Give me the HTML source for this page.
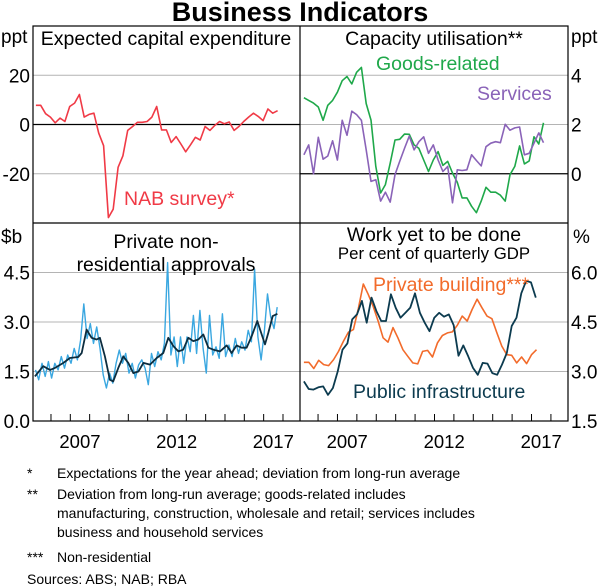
<!DOCTYPE html>
<html><head><meta charset="utf-8"><style>
html,body{margin:0;padding:0;background:#fff;}
svg{display:block;font-family:"Liberation Sans",Arial,sans-serif;}
</style></head><body>
<svg id="c" width="600" height="588" viewBox="0 0 600 588" xmlns="http://www.w3.org/2000/svg">
<text x="300" y="21" text-anchor="middle" font-size="27" font-weight="bold">Business Indicators</text>
<g id="grid"></g>
<g id="series"></g>
<g id="frame"></g>
<g id="labels" font-size="19.5"></g>
<g font-size="14">
<text x="27" y="478">*</text>
<text x="57" y="478">Expectations for the year ahead; deviation from long-run average</text>
<text x="27" y="499">**</text>
<text x="57" y="499">Deviation from long-run average; goods-related includes</text>
<text x="57" y="518">manufacturing, construction, wholesale and retail; services includes</text>
<text x="57" y="537">business and household services</text>
<text x="27" y="562">***</text>
<text x="57" y="562">Non-residential</text>
<text x="27" y="584">Sources: ABS; NAB; RBA</text>
</g>
</svg>
<script>
// ---- data ----
const nabStart = 2005.22;
const nabValues = [7.8,7.8,4.4,3.0,0.7,2.6,1.2,7.3,8.7,12.2,3.0,4.1,4.6,-3.5,-8.6,-37.8,-34.4,-17.4,-12.7,-2.4,-0.8,0.9,0.9,1.2,3.0,7.3,-2.2,-2.2,-7.3,-4.9,-7.9,-11.1,-8.2,-5.2,-6.3,-0.8,-2.4,-0.4,1.2,0.3,1.0,-2.4,-0.8,1.2,3.0,4.6,3.3,1.6,6.3,4.6,5.6];
const capStart = 2005.27;
const goodsValues = [3.09,2.98,2.87,2.71,2.17,2.78,2.98,3.31,3.78,3.95,3.65,4.12,4.32,2.85,2.18,0.30,-0.78,-0.44,0.43,1.37,1.40,1.61,1.60,1.17,1.03,0.56,0.09,0.56,0.90,0.34,0.50,0.03,-0.35,-0.98,-0.98,-1.32,-1.58,-1.11,-0.55,-0.75,-0.75,-0.87,-1.11,-0.04,0.30,1.13,0.40,0.52,1.50,1.21,2.07];
const servicesValues = [0.77,1.17,0,1.48,0.59,0.72,1.34,0.56,2.17,1.56,2.54,2.40,2.17,0.97,-0.31,-0.24,-1.11,-0.75,-1.15,-0.04,0.50,1.03,1.53,0.97,1.30,1.50,0.83,1.17,0.56,0.09,0.30,-1.18,0.16,0.13,0.16,0.77,0.54,0.32,1.10,1.24,1.30,1.26,2.01,1.77,1.86,1.90,0.77,0.83,1.24,1.66,1.26];
const approvalsStart = 2005.20;
const approvalsValues = [1.55,1.25,1.75,1.35,1.80,1.30,1.75,1.55,1.95,1.60,2.00,1.75,2.20,1.85,2.45,3.55,2.50,2.95,2.35,2.85,2.20,1.40,1.00,1.45,1.15,1.75,2.15,1.75,2.05,1.45,1.75,1.30,1.70,1.85,1.60,1.10,2.05,1.65,2.10,1.85,2.35,4.80,2.00,2.55,1.65,2.55,1.75,2.55,2.10,3.20,2.05,3.35,2.20,1.45,3.20,2.00,2.25,1.90,3.25,1.95,2.30,1.95,2.50,2.05,2.40,2.15,2.75,2.40,4.60,2.55,1.85,2.70,3.85,3.15,2.80,3.45];
const trendYears = [2005.17,2005.60,2005.95,2006.21,2006.64,2006.98,2007.41,2007.59,2007.84,2008.10,2008.36,2008.53,2008.79,2009.05,2009.22,2009.48,2009.74,2010.00,2010.26,2010.52,2010.78,2011.12,2011.47,2011.81,2012.07,2012.33,2012.59,2012.84,2013.10,2013.36,2013.62,2013.88,2014.14,2014.40,2014.74,2015.09,2015.34,2015.60,2015.86,2016.12,2016.38,2016.67,2016.90,2017.07,2017.24,2017.47,2017.71];
const trendValues = [1.35,1.66,1.55,1.61,1.76,1.91,1.94,2.06,2.77,2.52,2.47,2.52,1.96,1.25,1.20,1.61,1.96,1.76,1.45,1.50,1.76,1.71,1.91,2.06,2.52,2.27,2.11,2.16,2.52,2.42,2.47,2.62,2.22,2.16,2.11,2.29,2.06,2.29,2.22,2.22,2.57,3.03,2.62,2.32,2.67,3.18,3.25];
const wytbStart = 2005.27;
const privateBuildingValues = [3.28,3.28,3.09,3.34,3.21,3.18,3.36,3.61,3.92,4.19,4.27,4.90,5.65,5.34,4.97,4.53,4.02,3.89,4.33,4.02,3.66,3.46,3.26,3.23,3.61,3.64,3.44,3.87,4.09,4.17,4.20,4.40,4.68,4.53,4.88,5.19,4.93,4.68,4.60,4.17,3.77,3.51,3.49,3.26,3.44,3.24,3.51,3.66];
const publicInfraValues = [2.70,2.47,2.45,2.52,2.55,2.29,2.50,3.00,3.66,3.85,4.58,4.73,5.14,4.48,5.24,4.83,4.53,4.53,5.34,4.93,4.63,4.78,4.93,5.37,4.78,4.48,4.22,4.63,4.78,4.66,4.73,4.40,3.48,3.79,3.46,3.11,2.90,3.26,3.24,2.95,2.90,3.21,3.56,4.38,4.63,5.37,5.75,5.70,5.24];
const leftTopTicks = ["20","0","-20"];
const rightTopTicks = ["4","2","0"];
const leftBottomTicks = ["4.5","3.0","1.5","0.0"];
const rightBottomTicks = ["6.0","4.5","3.0","1.5"];
const yearLabels = ["2007","2012","2017"];

// ---- geometry ----
const NS = "http://www.w3.org/2000/svg";
const T0 = 2005.07, T1 = 2018.88;
const panels = {
  tl:{x0:33,x1:300,y0:26,y1:223,min:-40,max:40},
  tr:{x0:300,x1:568,y0:26,y1:223,min:-2,max:6},
  bl:{x0:33,x1:300,y0:223,y1:421,min:0,max:6},
  br:{x0:300,x1:568,y0:223,y1:421,min:1.5,max:7.5}
};
function xs(p,t){return p.x0+(t-T0)/(T1-T0)*(p.x1-p.x0);}
function ys(p,v){return p.y1-(v-p.min)/(p.max-p.min)*(p.y1-p.y0);}
function mk(tag,attrs,parent){const e=document.createElementNS(NS,tag);for(const k in attrs)e.setAttribute(k,attrs[k]);parent.appendChild(e);return e;}
const G=document.getElementById('grid'),S=document.getElementById('series'),F=document.getElementById('frame'),L=document.getElementById('labels');

function hline(p,v,color,w){const y=ys(p,v);const l=mk('line',{x1:p.x0,x2:p.x1,y1:y,y2:y,stroke:color,'stroke-width':w},G);return l;}
[20,-20].forEach(v=>{const l=hline(panels.tl,v,'#b4b4b4',1);});
const z1=hline(panels.tl,0,'#000',1.2);
[4,2].forEach(v=>{const l=hline(panels.tr,v,'#b4b4b4',1);});
const z2=hline(panels.tr,0,'#000',1.2);
[4.5,3,1.5].forEach(v=>{const l=hline(panels.bl,v,'#b4b4b4',1);});
[6,4.5,3].forEach(v=>{const l=hline(panels.br,v,'#b4b4b4',1);});

function series(p,years,vals,color,w,name){
  const pts=vals.map((v,i)=>xs(p,years[i]).toFixed(1)+','+ys(p,v).toFixed(1)).join(' ');
  const e=mk('polyline',{points:pts,fill:'none',stroke:color,'stroke-width':w,'stroke-linejoin':'round'},S);
  
  
}
function yearsFrom(start,step,n){return Array.from({length:n},(_,i)=>start+i*step);}
series(panels.tl,yearsFrom(nabStart,0.25,nabValues.length),nabValues,'#f03a46',1.6,'nab-survey-line');
series(panels.tr,yearsFrom(capStart,0.247,goodsValues.length),goodsValues,'#1fa84a',1.6,'goods-related-line');
series(panels.tr,yearsFrom(capStart,0.247,servicesValues.length),servicesValues,'#8a63b8',1.6,'services-line');
series(panels.bl,yearsFrom(approvalsStart,1/6,approvalsValues.length),approvalsValues,'#3aa7e0',1.4,'approvals-monthly-line');
series(panels.bl,trendYears,trendValues,'#0c2d3f',1.8,'approvals-trend-line');
series(panels.br,yearsFrom(wytbStart,0.255,privateBuildingValues.length),privateBuildingValues,'#f26b2b',1.6,'private-building-line');
series(panels.br,yearsFrom(wytbStart,0.249,publicInfraValues.length),publicInfraValues,'#0c3b4f',1.8,'public-infrastructure-line');

const fr=mk('rect',{x:33,y:26,width:535,height:395,fill:'none',stroke:'#000','stroke-width':1.2},F);

mk('line',{x1:300,x2:300,y1:26,y2:421,stroke:'#000','stroke-width':1.2},F);
mk('line',{x1:33,x2:568,y1:223,y2:223,stroke:'#000','stroke-width':1.2},F);
['bl','br'].forEach(k=>{const p=panels[k];for(let yr=2006;yr<=2018;yr++){const x=xs(p,yr);const t=mk('line',{x1:x,x2:x,y1:421,y2:414,stroke:'#000','stroke-width':1},F);}
  yearLabels.forEach(lb=>{const e=mk('text',{x:xs(p,+lb+0.5),y:448,'text-anchor':'middle','font-size':'18.5'},L);e.textContent=lb;});});

function ylab(p,vals,side){vals.forEach(lb=>{const v=parseFloat(lb);const e=mk('text',{x:side==='l'?30:571,y:ys(p,v)+7,'text-anchor':side==='l'?'end':'start','font-size':'19'},L);e.textContent=lb;});}
ylab(panels.tl,leftTopTicks,'l');ylab(panels.tr,rightTopTicks,'r');ylab(panels.bl,leftBottomTicks,'l');ylab(panels.br,rightBottomTicks,'r');

function txt(x,y,s,opts,name){const e=mk('text',Object.assign({x:x,y:y},opts||{}),L);e.textContent=s;return e;}
txt(1,43,'ppt',{'font-size':'19'},'y-axis-unit-left-top');
txt(571,43,'ppt',{'font-size':'19'},'y-axis-unit-right-top');
txt(1,243,'$b',{'font-size':'19'},'y-axis-unit-left-bottom');
txt(573,243,'%',{'font-size':'19'},'y-axis-unit-right-bottom');
txt(166,45,'Expected capital expenditure',{'text-anchor':'middle'},'panel-title-capex');
txt(434,45,'Capacity utilisation**',{'text-anchor':'middle'},'panel-title-capacity');
txt(166,248,'Private non-',{'text-anchor':'middle'},'panel-title-approvals-1');
txt(166,271,'residential approvals',{'text-anchor':'middle'},'panel-title-approvals-2');
txt(434,241,'Work yet to be done',{'text-anchor':'middle'},'panel-title-wytbd');
txt(434,259,'Per cent of quarterly GDP',{'text-anchor':'middle','font-size':'16.8'},'panel-subtitle-wytbd');
txt(124,205,'NAB survey*',{fill:'#f03a46'},'label-nab-survey');
txt(376,70,'Goods-related',{fill:'#1fa84a'},'label-goods-related');
txt(477,100,'Services',{fill:'#8a63b8'},'label-services');
txt(373,291,'Private building***',{fill:'#f26b2b'},'label-private-building');
txt(353,398,'Public infrastructure',{fill:'#0c3b4f'},'label-public-infrastructure');
</script>
</body></html>
